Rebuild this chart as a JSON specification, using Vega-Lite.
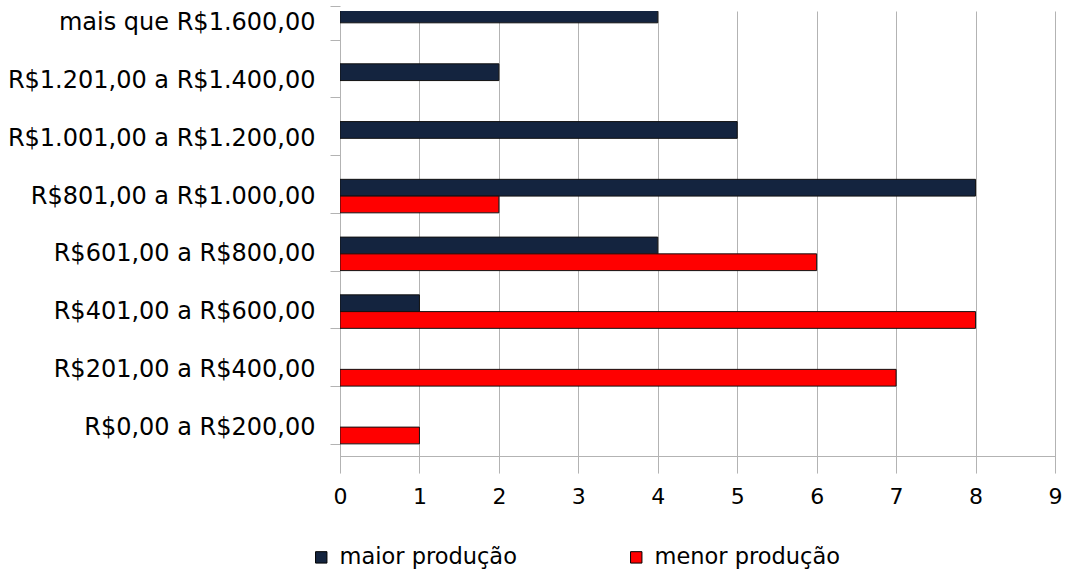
{
  "$schema": "https://vega.github.io/schema/vega-lite/v6.json",
  "width": 715,
  "height": 445,
  "autosize": {"type": "none"},
  "padding": {"left": 340, "top": 11, "right": 13, "bottom": 118},
  "background": "white",
  "config": {"view": {"stroke": null}, "font": "DejaVu Sans"},
  "data": {
    "values": [
      {"faixa": "mais que R$1.600,00", "serie": "maior produção", "valor": 4},
      {"faixa": "R$1.201,00 a R$1.400,00", "serie": "maior produção", "valor": 2},
      {"faixa": "R$1.001,00 a R$1.200,00", "serie": "maior produção", "valor": 5},
      {"faixa": "R$801,00 a R$1.000,00", "serie": "maior produção", "valor": 8},
      {"faixa": "R$801,00 a R$1.000,00", "serie": "menor produção", "valor": 2},
      {"faixa": "R$601,00 a R$800,00", "serie": "maior produção", "valor": 4},
      {"faixa": "R$601,00 a R$800,00", "serie": "menor produção", "valor": 6},
      {"faixa": "R$401,00 a R$600,00", "serie": "maior produção", "valor": 1},
      {"faixa": "R$401,00 a R$600,00", "serie": "menor produção", "valor": 8},
      {"faixa": "R$201,00 a R$400,00", "serie": "menor produção", "valor": 7},
      {"faixa": "R$0,00 a R$200,00", "serie": "menor produção", "valor": 1}
    ]
  },
  "mark": {"type": "bar", "clip": true, "stroke": "#111111", "strokeWidth": 1},
  "encoding": {
    "y": {
      "field": "faixa",
      "type": "nominal",
      "sort": ["mais que R$1.600,00", "R$1.201,00 a R$1.400,00", "R$1.001,00 a R$1.200,00", "R$801,00 a R$1.000,00", "R$601,00 a R$800,00", "R$401,00 a R$600,00", "R$201,00 a R$400,00", "R$0,00 a R$200,00"],
      "scale": {"range": [-17.06, 445], "paddingInner": 0.42, "paddingOuter": 0.21},
      "axis": {
        "title": null,
        "domain": false,
        "grid": false,
        "ticks": true,
        "tickBand": "extent",
        "tickSize": 10,
        "tickColor": "#b3b3b3",
        "labelFontSize": 24,
        "labelColor": "#000000",
        "labelPadding": 15,
        "labelLimit": 400
      }
    },
    "x": {
      "field": "valor",
      "type": "quantitative",
      "scale": {"domain": [0, 9], "nice": false},
      "axis": {
        "title": null,
        "values": [0, 1, 2, 3, 4, 5, 6, 7, 8, 9],
        "grid": true,
        "gridColor": "#b3b3b3",
        "gridWidth": 1,
        "domainColor": "#b3b3b3",
        "tickColor": "#b3b3b3",
        "tickSize": 10,
        "labelFontSize": 22,
        "labelPadding": 20,
        "labelColor": "#000000",
        "labelFlush": false
      }
    },
    "yOffset": {
      "field": "serie",
      "type": "nominal",
      "sort": ["maior produção", "menor produção"],
      "scale": {"paddingInner": 0, "paddingOuter": 0}
    },
    "color": {
      "field": "serie",
      "type": "nominal",
      "scale": {"domain": ["maior produção", "menor produção"], "range": ["#14243f", "#ff0000"]},
      "legend": {
        "orient": "none",
        "legendX": -30,
        "legendY": 535,
        "direction": "horizontal",
        "title": null,
        "symbolType": "square",
        "symbolSize": 130,
        "symbolStrokeColor": "#000000",
        "symbolStrokeWidth": 1,
        "symbolOpacity": 1,
        "labelFontSize": 22.5,
        "labelColor": "#000000",
        "labelOffset": 7,
        "labelLimit": 400,
        "columnPadding": 100,
        "gridAlign": "all",
        "padding": 0
      }
    }
  }
}
